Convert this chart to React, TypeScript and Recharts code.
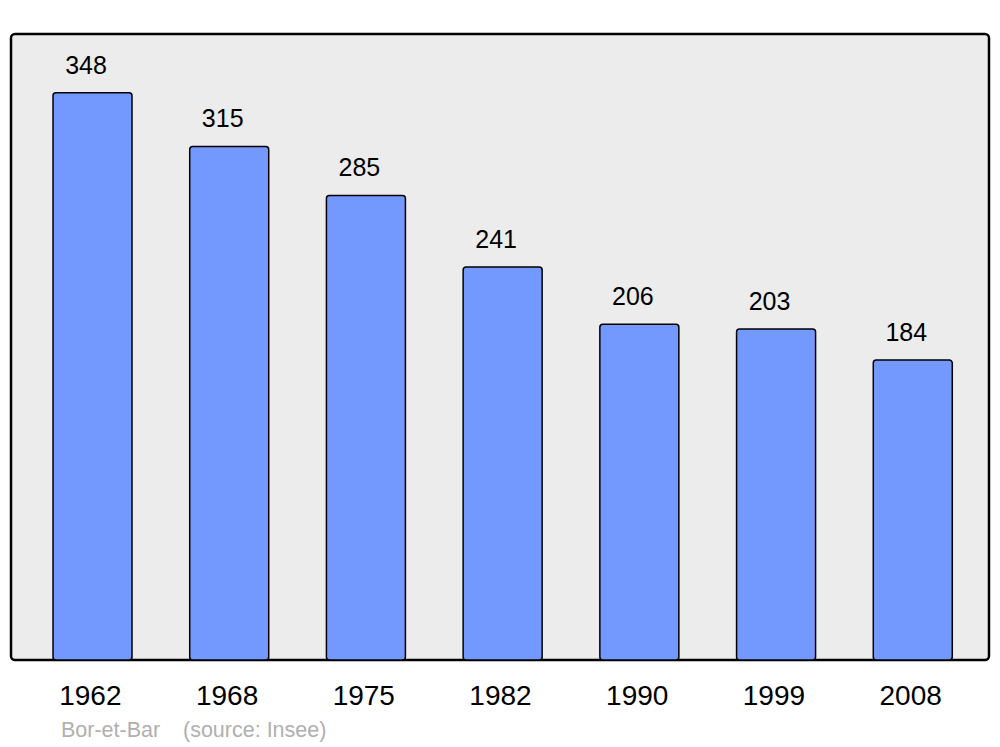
import React from 'react';
import { BarChart, Bar, XAxis, YAxis, LabelList } from 'recharts';

const years = ['1962', '1968', '1975', '1982', '1990', '1999', '2008'];
const population = [348, 315, 285, 241, 206, 203, 184];

const data = years.map((year, i) => ({ year, population: population[i] }));

const FONT = '"Liberation Sans", Arial, sans-serif';

const YearTick = (props: any) => {
  const { x, y, payload } = props;
  return (
    <text x={x - 2} y={y + 27} textAnchor="middle" dominantBaseline="central"
      fontFamily={FONT} fontSize={28} fill="#000">
      {payload.value}
    </text>
  );
};

const ValueLabel = (props: any) => {
  const { x, y, width, value } = props;
  return (
    <text x={x + width / 2 - 6.5} y={y - 28} textAnchor="middle" dominantBaseline="central"
      fontFamily={FONT} fontSize={25} fill="#000">
      {value}
    </text>
  );
};

export default function App() {
  return (
    <div style={{ position: 'absolute', left: 0, top: 0, background: '#fff' }}>
      <BarChart width={1000} height={747} data={data}
        margin={{ top: 34, right: 11, left: 11, bottom: 47 }}>
        {/* grey panel behind the plot */}
        <rect x={11} y={34} width={978} height={626} rx={4} ry={4}
          fill="#ececec" stroke="#000" strokeWidth={2.5} />
        <XAxis dataKey="year" height={40} axisLine={false} tickLine={false}
          tick={<YearTick />} padding={{ left: 13, right: 8 }} interval={0} />
        <YAxis hide domain={[0, 384]} width={0} />
        <Bar dataKey="population" fill="#7399ff" stroke="#000" strokeWidth={1.5}
          barSize={79} radius={3} isAnimationActive={false}>
          <LabelList dataKey="population" content={<ValueLabel />} />
        </Bar>
        <text x={61} y={730} dominantBaseline="central" fontFamily={FONT} fontSize={21.5} fill="#b0b0b0">
          Bor-et-Bar
        </text>
        <text x={183} y={730} dominantBaseline="central" fontFamily={FONT} fontSize={21.5} fill="#b0b0b0">
          (source: Insee)
        </text>
      </BarChart>
    </div>
  );
}
